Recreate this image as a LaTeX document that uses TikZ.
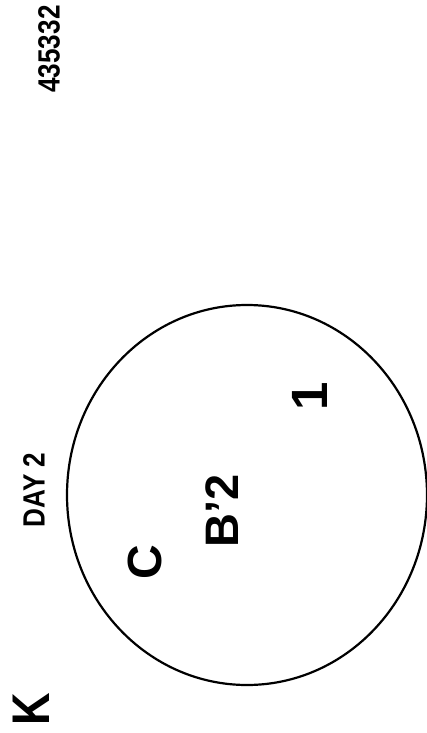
\documentclass[tikz,border=0pt]{standalone}
\usepackage{fontspec}
\newfontfamily\platefont{Liberation Sans}
\newfontfamily\narrowfont{Liberation Sans}[FakeStretch=0.85]
\begin{document}
\begin{tikzpicture}[x=1pt,y=-1pt,
  every node/.style={inner sep=0pt,rotate=90},
  tag/.style={font=\narrowfont\bfseries\fontsize{30.7}{32}\selectfont},
  colony/.style={font=\platefont\bfseries\fontsize{48}{50}\selectfont}]
\useasboundingbox (0,0) rectangle (427,733);
% dish outline
\draw[line width=2.2pt] (247,495) ellipse [x radius=180,y radius=190];
% labels outside the dish
\node[tag] (num) at (49,49) {435332};
\node[tag] (day) at (34,490) {DAY 2};
\node[font=\narrowfont\bfseries\fontsize{53}{55}\selectfont] (panel) at (31,709) {K};
% colonies
\node[colony] (colC) at (145,562) {C};
\node[colony,font=\platefont\bfseries\fontsize{47}{49}\selectfont] (colB) at (222,511) {B’2};
\node[colony,font=\platefont\bfseries\fontsize{51}{53}\selectfont] (colA) at (310,396) {1};
\end{tikzpicture}
\end{document}
